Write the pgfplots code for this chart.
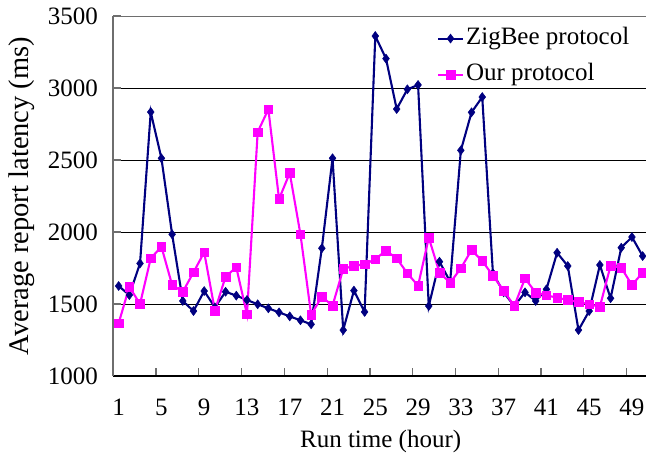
\documentclass[border=0pt]{standalone}
\usepackage{pgfplots}
\pgfplotsset{compat=1.18}
\usepackage{fontspec}
\setmainfont{Liberation Serif}
\definecolor{zig}{RGB}{0,0,128}
\definecolor{our}{RGB}{255,0,255}
\definecolor{axgray}{RGB}{110,110,110}
\begin{document}
\begin{tikzpicture}
\begin{axis}[
  scale only axis,
  width=534.7pt, height=360pt,
  xmin=0.5, xmax=50.5, ymin=1000, ymax=3500,
  axis x line*=bottom, axis y line*=left,
  x axis line style={-, black, line width=1.5pt},
  y axis line style={-, axgray, line width=2pt},
  xtick={1,5,...,49},
  major x tick style={draw=none},
  minor xtick={4.5,8.5,...,48.5},
  minor x tick style={axgray, line width=1.2pt},
  minor tick length=8pt,
  ytick={1000,1500,...,3500},
  major y tick style={axgray, line width=1.5pt},
  major tick length=8pt,
  tick align=inside,
  ymajorgrids,
  grid style={black, line width=0.9pt},
  /pgf/number format/assume math mode=true,
  /pgf/number format/1000 sep={},
  tick label style={font=\fontsize{25}{30}\selectfont},
  xticklabel style={anchor=center, yshift=-31pt},
  yticklabel style={anchor=east, xshift=-12pt},
  every axis x label/.style={at={(axis description cs:0.5,-0.1806)}, anchor=center, font=\fontsize{25}{30}\selectfont},
  every axis y label/.style={at={(axis description cs:-0.1708,0.5)}, anchor=center, rotate=90, font=\fontsize{28.5}{34}\selectfont},
  xlabel={Run time (hour)},
  ylabel={Average report latency (ms)},
  legend style={draw=none, fill=none, at={(0.605,0.974)}, anchor=north west,
    inner sep=0pt, row sep=10pt, font=\fontsize{25}{30}\selectfont,
    nodes={inner sep=2pt, text height=17pt, text depth=5pt}},
  legend cell align=left,
  legend image code/.code={\draw[mark repeat=2, mark phase=2] plot coordinates {(0pt,0pt) (12.5pt,0pt) (25pt,0pt)};},
]
\addplot[zig, line width=2.1pt, mark=diamond*, mark size=4.5pt, mark options={solid, fill=zig, line width=0.5pt}] coordinates {
(1,1625) (2,1562) (3,1782) (4,2833) (5,2512) (6,1984) (7,1521) (8,1451) (9,1590) (10,1477)
(11,1585) (12,1558) (13,1528) (14,1498) (15,1470) (16,1442) (17,1414) (18,1387) (19,1359) (20,1887)
(21,2512) (22,1319) (23,1593) (24,1445) (25,3361) (26,3204) (27,2854) (28,2991) (29,3021) (30,1486)
(31,1794) (32,1655) (33,2567) (34,2831) (35,2937) (36,1713) (37,1581) (38,1486) (39,1581) (40,1521)
(41,1602) (42,1856) (43,1764) (44,1319) (45,1451) (46,1771) (47,1540) (48,1891) (49,1965) (50,1833)
};
\addlegendentry{ZigBee protocol}
\addplot[our, line width=2.1pt, mark=square*, mark size=4.3pt, mark options={solid, fill=our, line width=0.5pt}] coordinates {
(1,1366) (2,1620) (3,1500) (4,1817) (5,1898) (6,1632) (7,1585) (8,1720) (9,1859) (10,1454)
(11,1690) (12,1755) (13,1428) (14,2694) (15,2852) (16,2229) (17,2410) (18,1984) (19,1426) (20,1551)
(21,1488) (22,1743) (23,1766) (24,1775) (25,1812) (26,1870) (27,1817) (28,1713) (29,1627) (30,1961)
(31,1718) (32,1648) (33,1748) (34,1875) (35,1799) (36,1697) (37,1593) (38,1486) (39,1678) (40,1579)
(41,1560) (42,1544) (43,1528) (44,1514) (45,1498) (46,1481) (47,1766) (48,1752) (49,1632) (50,1718)
};
\addlegendentry{Our protocol}
\draw[axgray, line width=1.5pt] (rel axis cs:0,1) -- (rel axis cs:1,1);
\end{axis}
\pgfresetboundingbox
\path[use as bounding box] ([shift={(-113.3pt,-77pt)}]current axis.south west) rectangle ([shift={(532.7pt,376pt)}]current axis.south west);
\end{tikzpicture}
\end{document}
